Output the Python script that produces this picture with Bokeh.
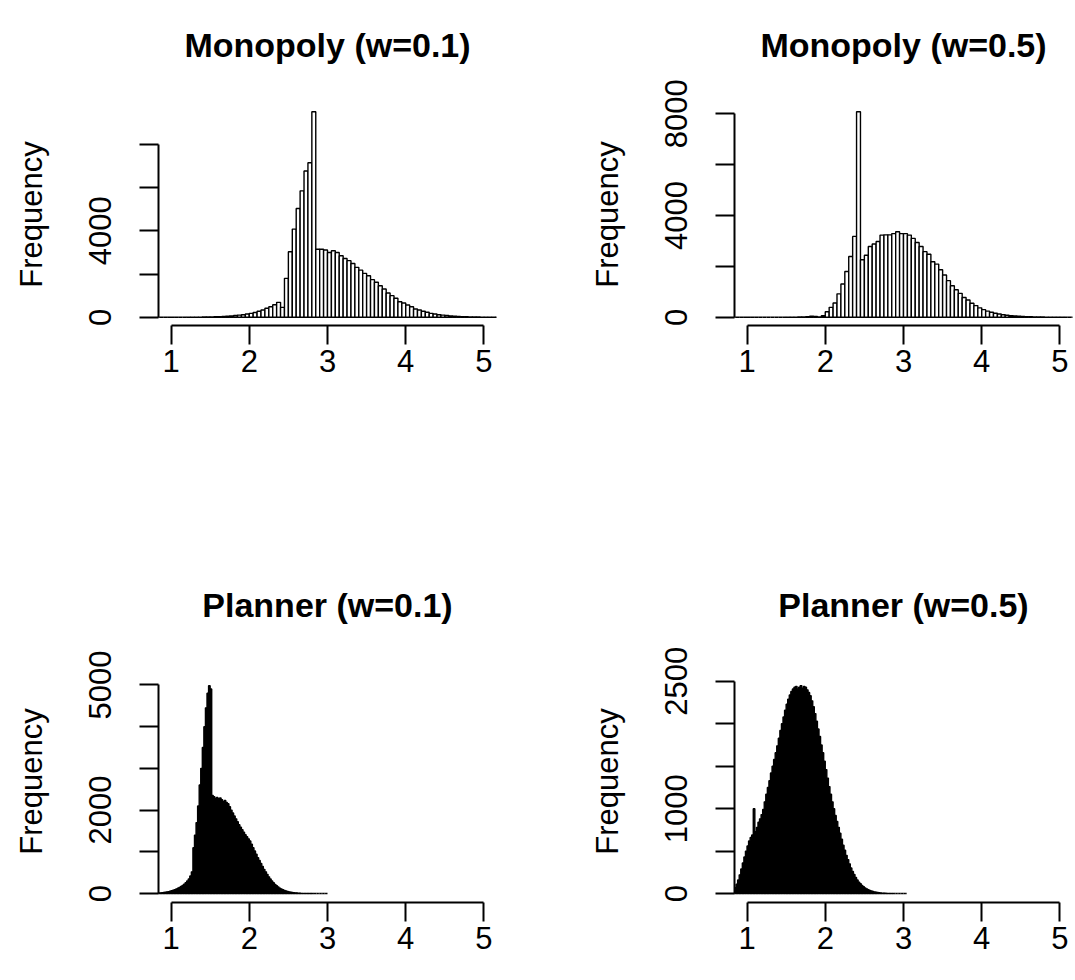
import math
from bokeh.plotting import figure
from bokeh.models import Range1d, FixedTicker, Title
from bokeh.layouts import column, row
from bokeh.embed import file_html
from bokeh.resources import INLINE

FONT = "Liberation Sans"

# ---------------- data ----------------
# Monopoly (w=0.1): bins of width 0.05 starting at 0.50
mono01_start = 0.50
mono01_width = 0.05
mono01_counts = [0]*14 + [
    2, 3, 5, 8, 10, 15, 20, 25, 30, 40, 50, 60, 80, 100, 120, 150,
    180, 220, 280, 340, 420, 490, 580, 690, 460, 1800, 3030, 4080, 5030, 5850,
    6770, 7150, 9510, 3150, 3150, 3110, 3000, 3080, 3000, 2850, 2720, 2620,
    2490, 2310, 2180, 2030, 1920, 1740, 1620, 1460, 1310, 1120, 1000, 880,
    720, 660, 570, 490, 380, 340, 280, 230, 180, 150, 120, 100, 80, 60, 50,
    40, 30, 25, 20, 15, 10, 8, 5, 3, 2, 1, 0, 0]

# Monopoly (w=0.5): bins of width 0.05 starting at 0.50
mono05_start = 0.50
mono05_width = 0.05
mono05_counts = [0]*20 + [
    2, 3, 5, 8, 12, 20, 40, 30, 15, 60, 220, 390, 560, 920, 1310, 1800,
    2390, 3180, 8080, 2260, 2440, 2780, 2880, 2980, 3230, 3240, 3240, 3290,
    3360, 3290, 3290, 3230, 3100, 2940, 2780, 2580, 2480, 2180, 2090, 1870,
    1660, 1440, 1240, 1080, 940, 780, 680, 550, 460, 370, 300, 240, 200, 160,
    130, 100, 80, 60, 50, 40, 30, 25, 20, 15, 10, 8, 6, 4, 3, 2, 1, 0, 0, 0]

# Planner (w=0.1): bins of width 0.02 starting at 0.80
plan01_start = 0.80
plan01_width = 0.02
plan01_counts = [
    5, 8, 12, 16, 20, 25, 30, 38, 45, 55, 65, 78, 92, 108, 125, 145,
    168, 195, 225, 260, 300, 350, 420, 520, 1100, 1400, 1700, 2100, 2600,
    3000, 3500, 4000, 4450, 4800, 4980, 4900, 2350, 2320, 2280, 2300, 2270,
    2290, 2250, 2200, 2230, 2180,
    2150, 2080, 2000, 1930, 1860, 1790, 1720, 1650, 1590, 1530, 1470, 1410,
    1360, 1310, 1260, 1180, 1100, 1020, 940, 860, 790, 720, 650, 580, 520,
    460, 400, 350, 300, 260, 220, 185, 155, 130, 108, 90, 74, 60, 49, 40,
    32, 26, 20, 16, 12, 9, 7, 5, 4, 3, 2, 2, 1, 1, 1,
    0, 0, 0, 0, 0, 0, 0, 0, 0]

# Planner (w=0.5): bins of width 0.02 starting at 0.80
plan05_start = 0.80
plan05_width = 0.02
plan05_counts = [
    20, 40, 70, 110, 160, 220, 290, 360, 430, 500, 560, 620, 660, 690, 1000,
    730, 780, 840, 880, 930, 990, 1080, 1170, 1250, 1330, 1420, 1500, 1580,
    1660, 1740, 1830, 1920, 2000, 2080, 2160, 2230, 2290, 2340, 2380, 2410,
    2430, 2440, 2410, 2430, 2450, 2420, 2440, 2430, 2400, 2370, 2330, 2270,
    2200, 2120, 2030, 1940, 1850, 1750, 1660, 1560, 1460, 1360, 1260, 1170,
    1080, 1000, 920, 850, 780, 710, 640, 570, 510, 450, 400, 350, 300, 260,
    225, 190, 160, 135, 115, 95, 80, 65, 55, 45, 37, 30, 24, 19, 15, 12, 9,
    7, 5, 4, 3, 2, 2, 1, 1, 1, 0, 0, 0, 0, 0, 0, 0, 0]

titles = ["Monopoly (w=0.1)", "Monopoly (w=0.5)", "Planner (w=0.1)", "Planner (w=0.5)"]
x_ticks = [1, 2, 3, 4, 5]
y_ticks = [
    [0, 2000, 4000, 6000, 8000],
    [0, 2000, 4000, 6000, 8000],
    [0, 1000, 2000, 3000, 4000, 5000],
    [0, 500, 1000, 1500, 2000, 2500],
]
y_labels_shown = [
    [0, 4000],
    [0, 4000, 8000],
    [0, 2000, 5000],
    [0, 1000, 2500],
]
xlim = (1, 5)
# upper y limits of each panel (as the plotting ylim)
y_upper = [9510, 8080, 5370, 2640]


def make_panel(title, start, width, counts, yticks, yshown, ytop, fill,
               w, h, bl, br, bt, bb, gap):
    left = [start + i * width for i in range(len(counts))]
    right = [l + width for l in left]
    pad_x = 0.04 * (xlim[1] - xlim[0])
    p = figure(width=w, height=h, output_backend="svg", toolbar_location=None,
               x_range=Range1d(xlim[0] - pad_x, xlim[1] + pad_x),
               y_range=Range1d(-0.04 * ytop, 1.04 * ytop),
               min_border_left=bl, min_border_right=br,
               min_border_top=bt, min_border_bottom=bb)
    p.quad(left=left, right=right, top=counts, bottom=0,
           fill_color=fill, line_color="black", line_width=1.4)
    # spacer between frame and title, then the title itself
    p.add_layout(Title(text=" ", text_font_size="1px", standoff=gap), "above")
    p.add_layout(Title(text=title, align="center", text_font=FONT,
                       text_font_size="34px", text_font_style="bold",
                       text_color="black", standoff=6), "above")
    p.outline_line_color = None
    p.xgrid.grid_line_color = None
    p.ygrid.grid_line_color = None
    p.background_fill_color = "white"
    p.border_fill_color = "white"

    xa = p.xaxis[0]
    xa.ticker = FixedTicker(ticks=x_ticks)
    xa.bounds = xlim
    ya = p.yaxis[0]
    ya.ticker = FixedTicker(ticks=yticks)
    ya.bounds = (yticks[0], yticks[-1])
    ya.major_label_overrides = {t: ("" if t not in yshown else str(t)) for t in yticks}
    ya.major_label_orientation = "parallel"
    ya.axis_label = "Frequency"
    for ax in (xa, ya):
        ax.axis_line_width = 2
        ax.axis_line_color = "black"
        ax.major_tick_line_width = 2
        ax.major_tick_line_color = "black"
        ax.major_tick_out = 19
        ax.major_tick_in = 0
        ax.minor_tick_line_color = None
        ax.major_label_text_font = FONT
        ax.major_label_text_font_size = "31px"
        ax.major_label_text_color = "black"
        ax.axis_label_text_font = FONT
        ax.axis_label_text_font_size = "31px"
        ax.axis_label_text_font_style = "normal"
        ax.axis_label_text_color = "black"
    xa.major_label_standoff = 5
    ya.major_label_standoff = 28
    ya.axis_label_standoff = 38
    return p


p1 = make_panel(titles[0], mono01_start, mono01_width, mono01_counts, y_ticks[0], y_labels_shown[0],
                y_upper[0], "white", 537, 577, 158, 41, 103, 252, 34)
p2 = make_panel(titles[1], mono05_start, mono05_width, mono05_counts, y_ticks[1], y_labels_shown[1],
                y_upper[1], "white", 538, 577, 197, 3, 103, 252, 34)
p3 = make_panel(titles[2], plan01_start, plan01_width, plan01_counts, y_ticks[2], y_labels_shown[2],
                y_upper[2], "black", 537, 403, 158, 41, 83, 78, 31)
p4 = make_panel(titles[3], plan05_start, plan05_width, plan05_counts, y_ticks[3], y_labels_shown[3],
                y_upper[3], "black", 538, 403, 197, 3, 83, 78, 31)

layout = column(row(p1, p2), row(p3, p4))
open("out.html", "w").write(file_html(layout, INLINE))
